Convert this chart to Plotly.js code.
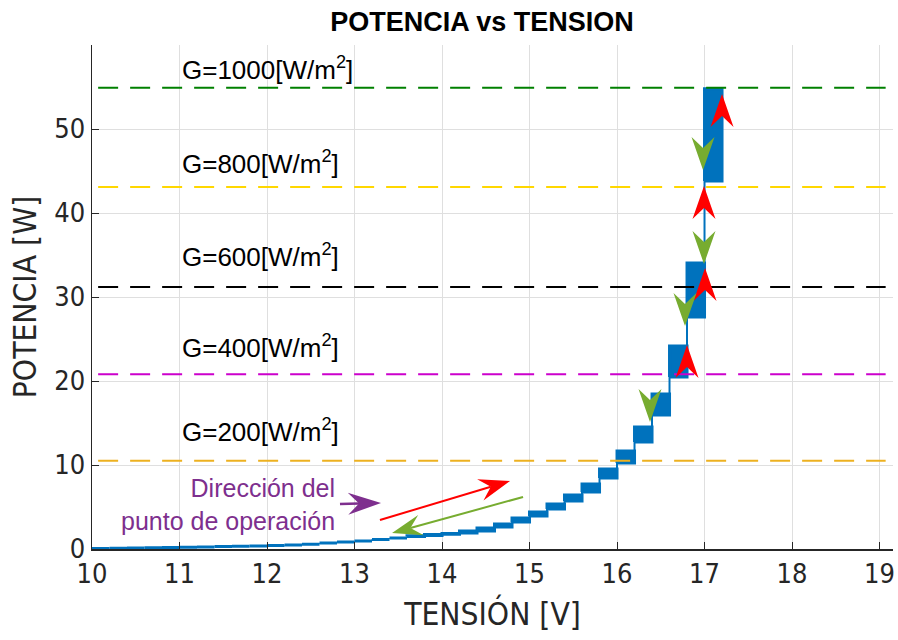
<!DOCTYPE html>
<html>
<head>
<meta charset="utf-8">
<script src="https://cdn.plot.ly/plotly-3.0.1.min.js"></script>
<style>
html,body{margin:0;padding:0;background:#ffffff;}
#chart{width:898px;height:640px;}
</style>
</head>
<body>
<div id="chart"></div>
<script>
// ---------------- DATA ----------------
// Voltage edges of the MPPT operating steps [V]
const vEdges = [10.0,10.2,10.4,10.6,10.8,11.0,11.2,11.4,11.6,11.8,12.0,12.2,12.4,12.6,12.8,13.0,13.2,13.4,13.6,13.8,14.0,14.2,14.4,14.6,14.8,15.0,15.2,15.4,15.6,15.8,16.0,16.2,16.4,16.6,16.8,17.0,17.2];
// Power band (low / high) visited inside each voltage step [W]
const pLow  = [0.05,0.08,0.11,0.14,0.18,0.21,0.25,0.29,0.33,0.37,0.42,0.48,0.58,0.70,0.82,0.95,1.12,1.30,1.48,1.62,1.76,1.90,2.14,2.62,3.21,3.93,4.76,5.71,6.79,8.45,10.24,12.74,15.95,20.48,27.62,43.81];
const pHigh = [0.05,0.08,0.11,0.14,0.18,0.21,0.25,0.29,0.33,0.37,0.42,0.48,0.60,0.72,0.86,1.02,1.20,1.38,1.58,1.72,1.86,2.14,2.50,2.98,3.69,4.40,5.36,6.43,7.74,9.52,11.67,14.52,18.45,24.17,34.05,54.80];
// Irradiance reference levels (maximum power) [W]
const irradLabels = ['G=1000[W/m<sup>2</sup>]','G=800[W/m<sup>2</sup>]','G=600[W/m<sup>2</sup>]','G=400[W/m<sup>2</sup>]','G=200[W/m<sup>2</sup>]'];
const irradPower  = [54.9, 43.1, 31.2, 20.8, 10.5];
const irradSpanV  = [10.07, 19.07];
// Axis ticks
const xTicks = [10,11,12,13,14,15,16,17,18,19];
const yTicks = [0,10,20,30,40,50];

// ---------------- STYLE / LAYOUT ----------------
const W = 898, H = 640;
const M = {l:92, r:5, t:45, b:91};
const xRange = [10, 19.154];
const yRange = [0, 60];
const plotW = W - M.l - M.r, plotH = H - M.t - M.b;
const pxPerV = plotW / (xRange[1]-xRange[0]);
const pxPerP = plotH / (yRange[1]-yRange[0]);

const BLUE = '#0072BD', RED = '#FF0000', GREEN = '#77AC30', PURPLE = '#7E2F8E';
const irradColors = ['#008000','#FFD700','#000000','#CC00CC','#EDB120'];
const narrow = '"Liberation Sans Narrow","Arial Narrow","DejaVu Sans Condensed",sans-serif';
const sans = '"Liberation Sans",Arial,Helvetica,sans-serif';

// Blocks: closed polygons, separated by gaps
const bx = [], by = [];
for (let k = 0; k < pLow.length; k++) {
  const v0 = vEdges[k], v1 = vEdges[k+1];
  bx.push(v0, v1, v1, v0, v0, null);
  by.push(pLow[k], pLow[k], pHigh[k], pHigh[k], pLow[k], null);
}
// Connectors between successive steps
const cx = [], cy = [];
for (let k = 0; k < pLow.length - 1; k++) {
  cx.push(vEdges[k+1], vEdges[k+1], null);
  cy.push(pHigh[k], pLow[k+1], null);
}

const traces = [
  {x: bx, y: by, type:'scatter', mode:'lines', fill:'toself', fillcolor: BLUE,
   line:{color: BLUE, width: 3}, hoverinfo:'skip', showlegend:false},
  {x: cx, y: cy, type:'scatter', mode:'lines', line:{color: BLUE, width: 2},
   hoverinfo:'skip', showlegend:false}
];
irradPower.forEach((p, i) => {
  traces.push({x: irradSpanV, y: [p, p], type:'scatter', mode:'lines',
    line:{color: irradColors[i], width: 2, dash:'20px,12px'}, hoverinfo:'skip', showlegend:false});
});

// Label positions for irradiance texts
const labelV = 11.0;
const labelP = [57.2, 46.0, 35.0, 24.1, 14.05];
const annotations = irradLabels.map((t, i) => ({
  x: labelV, y: labelP[i], xref:'x', yref:'y', text: t, showarrow:false,
  xanchor:'left', yanchor:'middle', font:{family: sans, size: 26, color:'#000000'}
}));
annotations.push({
  x: 12.80, y: 5.24, xref:'x', yref:'y', text:'Dirección del<br>punto de operación',
  showarrow:false, xanchor:'right', yanchor:'middle', align:'right',
  font:{family: sans, size: 25, color: PURPLE}
});

// Arrow heads (pixel-sized path shapes anchored at tip)
function headPath(angleDeg, len, halfW, notch) {
  const a = angleDeg * Math.PI / 180, c = Math.cos(a), s = Math.sin(a);
  const pts = [[0,0],[-len, halfW],[-notch,0],[-len,-halfW]];
  return 'M' + pts.map(([u,v]) => (u*c - v*s).toFixed(2) + ',' + (u*s + v*c).toFixed(2)).join('L') + 'Z';
}
function headShape(v, p, ang, color, len, halfW, notch) {
  return {type:'path', xref:'x', yref:'y', xsizemode:'pixel', ysizemode:'pixel',
    xanchor: v, yanchor: p, path: headPath(ang, len, halfW, notch),
    fillcolor: color, line:{width:0}, layer:'above'};
}
const shortHeads = [
  [17.200, 54.17,  90, RED], [16.994, 43.21,  90, RED], [17.006, 33.45,  90, RED], [16.800, 24.29,  90, RED],
  [16.983, 45.12, -90, GREEN], [16.994, 33.93, -90, GREEN], [16.777, 26.55, -90, GREEN], [16.377, 15.12, -90, GREEN]
];
const shapes = shortHeads.map(h => headShape(h[0], h[1], h[2], h[3], 33, 11.5, 22));

const longArrows = [
  {tail:[13.291, 3.45], tip:[14.777, 8.10], color: RED, w: 2, len: 31, hw: 11, notch: 20},
  {tail:[14.926, 6.19], tip:[13.429, 1.90], color: GREEN, w: 2, len: 30, hw: 10.5, notch: 19},
  {tail:[12.834, 5.36], tip:[13.303, 5.48], color: PURPLE, w: 2.5, len: 33, hw: 11, notch: 22}
];
longArrows.forEach(a => {
  const dx = (a.tip[0]-a.tail[0]) * pxPerV, dy = (a.tip[1]-a.tail[1]) * pxPerP;
  const ang = Math.atan2(dy, dx);
  const ex = a.tip[0] - (a.notch * Math.cos(ang)) / pxPerV;
  const ey = a.tip[1] - (a.notch * Math.sin(ang)) / pxPerP;
  shapes.push({type:'line', xref:'x', yref:'y', x0:a.tail[0], y0:a.tail[1], x1:ex, y1:ey,
    line:{color:a.color, width:a.w}, layer:'above'});
  shapes.push(headShape(a.tip[0], a.tip[1], ang*180/Math.PI, a.color, a.len, a.hw, a.notch));
});

const axisCommon = {
  showgrid:true, gridcolor:'#DFDFDF', gridwidth:1, zeroline:false,
  showline:true, linecolor:'#262626', linewidth:1.5, mirror:false,
  ticks:'inside', ticklen:7, tickwidth:1, tickcolor:'#262626',
  tickfont:{family: narrow, size: 27, color:'#262626'}, fixedrange:true
};

const layout = {
  width: W, height: H, margin: M,
  paper_bgcolor:'#ffffff', plot_bgcolor:'#ffffff',
  showlegend:false,
  title:{text:'<b>POTENCIA vs TENSION</b>', font:{family: sans, size: 27, color:'#000000'},
    x:0.487, xref:'paper', xanchor:'center', y: 1 - 22/640, yref:'container', yanchor:'middle'},
  xaxis: Object.assign({}, axisCommon, {range: xRange, tickmode:'array', tickvals: xTicks,
    ticktext: xTicks.map(String),
    title:{text:'TENSIÓN [V]', font:{family: narrow, size: 31.5, color:'#262626'}, standoff: 15}}),
  yaxis: Object.assign({}, axisCommon, {range: yRange, tickmode:'array', tickvals: yTicks,
    ticktext: yTicks.map(String),
    title:{text:'POTENCIA [W]', font:{family: narrow, size: 31.5, color:'#262626'}, standoff: 8}}),
  annotations: annotations,
  shapes: shapes
};

Plotly.newPlot('chart', traces, layout, {displayModeBar:false, staticPlot:true});
</script>
</body>
</html>
